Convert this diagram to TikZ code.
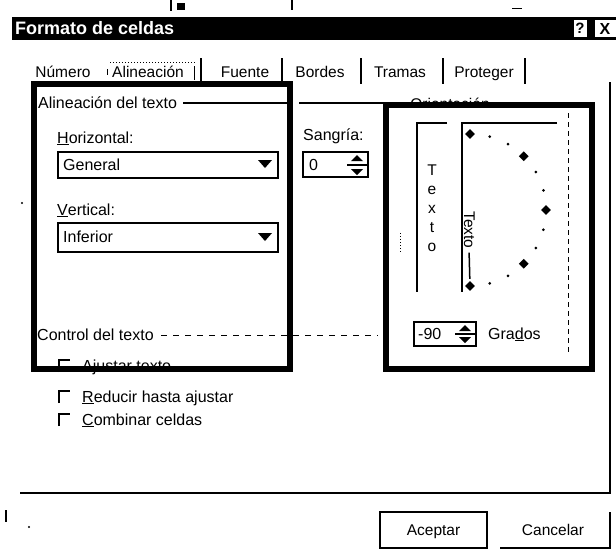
\documentclass[tikz,border=0pt]{standalone}
\usepackage{fontspec}
\setmainfont{Liberation Sans}
\usetikzlibrary{shapes.geometric}

\tikzset{
  hilite/.style={line width=5.5pt},
  boxline/.style={line width=1.3pt},
  txt/.style={anchor=west, inner sep=0pt, text height=12pt, text depth=2pt, font=\fontsize{16}{18}\selectfont},
  tabtxt/.style={inner sep=0pt, text height=12pt, text depth=2pt, font=\fontsize{15.5}{18}\selectfont},
  bigmark/.style={diamond, fill, inner sep=0pt, minimum size=10pt},
  smallmark/.style={circle, fill, inner sep=0pt, minimum size=3pt},
}

\begin{document}
\begin{tikzpicture}[x=1pt,y=-1pt]
\useasboundingbox (0,0) rectangle (616,555);
% title bar
\fill (12,17) rectangle (616,40);
\node[anchor=west, inner sep=0pt, text=white, font=\bfseries\fontsize{18}{20}\selectfont] (title) at (15,28.5) {Formato de celdas};
\node[draw, fill=white, inner sep=0pt, minimum width=14pt, minimum height=18pt, font=\bfseries\fontsize{15}{15}\selectfont] (help) at (580,28.5) {?};
\node[draw, fill=white, inner sep=0pt, minimum width=22pt, minimum height=18pt, font=\bfseries\fontsize{16}{16}\selectfont] (close) at (605,28.5) {X};
% tabs
\node[tabtxt] (tnum) at (63,72) {Número};
\node[tabtxt] (tali) at (148,72) {Alineación};
\node[tabtxt] (tfue) at (245,72) {Fuente};
\node[tabtxt] (tbor) at (320,72) {Bordes};
\node[tabtxt] (ttra) at (400,72) {Tramas};
\node[tabtxt] (tpro) at (484,72) {Proteger};
\foreach \x in {201,282,361,443,525}
  \draw[line width=1.6pt] (\x,58) -- (\x,84);
\draw[dotted, line width=1pt] (110,62) -- (195,62);
\draw[line width=1pt] (194,66) -- (194,80);
\draw[line width=1pt] (107,69) -- (107,75);
% group: Alineacion del texto
\node[txt] (galin) at (38,103) {Alineación del texto};
\draw[line width=1.2pt] (183,103) -- (288,103);
\draw[line width=1.2pt] (299,103) -- (383,103);
\begin{scope}
  \clip (400,80) rectangle (500,103);
  \node[tabtxt] (gori) at (450,104) {Orientación};
\end{scope}
\node[txt] (lhor) at (57,138) {\underline{H}orizontal:};
\draw[boxline] (58,152) rectangle (278,178);
\node[txt] (vhor) at (63,165) {General};
\fill (258,160) -- (272,160) -- (265,168) -- cycle;
\node[txt] (lver) at (57,210) {\underline{V}ertical:};
\draw[boxline] (58,223) rectangle (278,252);
\node[txt] (vver) at (63,237.5) {Inferior};
\fill (258,233) -- (272,233) -- (265,241) -- cycle;
% sangria
\node[txt] (lsan) at (303,135) {Sangría:};
\draw[boxline] (303,152) rectangle (368,177);
\node[txt] (vsan) at (309,165) {0};
\fill (351,161) -- (363,161) -- (357,155) -- cycle;
\draw[line width=1.4pt] (347,165) -- (367,165);
\fill (351,169) -- (363,169) -- (357,175) -- cycle;
% orientacion
\draw[line width=1.5pt] (447,123) -- (417,123) -- (417,292);
\draw[line width=1.5pt] (557,123) -- (462,123) -- (462,292);
\foreach \ch/\y in {T/170,e/189,x/208,t/227,o/246}
  \node[tabtxt] (vt\y) at (432,\y) {\ch};
\node[tabtxt, rotate=-90] (rtexto) at (469,230) {Texto};
\foreach \a in {90,45,0,-45,-90}
  \node[bigmark] (dm\a) at ({470+76*cos(\a)},{210-76*sin(\a)}) {};
\foreach \a in {75,60,30,15,-15,-30,-60,-75}
  \node[smallmark] (dt\a) at ({470+76*cos(\a)},{210-76*sin(\a)}) {};
\draw[line width=1.5pt, shorten <=4pt, shorten >=2pt] (rtexto.east) -- (dm-90);
\draw[dash pattern=on 5pt off 4pt, line width=1pt] (568,113) -- (568,355);
\draw[dotted, line width=1pt] (400,233) -- (400,253);
% grados
\draw[boxline] (414,322) rectangle (476,346);
\node[txt] (vgra) at (418,334) {-90};
\fill (459,331) -- (471,331) -- (465,325) -- cycle;
\draw[line width=1.4pt] (455,334) -- (475,334);
\fill (459,337) -- (471,337) -- (465,343) -- cycle;
\node[txt] (lgra) at (488,334) {Gra\underline{d}os};
% control del texto
\node[txt] (gctl) at (37,335) {Control del texto};
\draw[dash pattern=on 6pt off 6pt, line width=1pt] (161,335) -- (378,335);
\foreach \y/\nm/\t in {366/chkajus/Ajustar texto,397/chkred/\underline{R}educir hasta ajustar,420/chkcom/\underline{C}ombinar celdas}{
  \draw[line width=2.2pt] (59,\y+6) -- (59,\y-6) -- (70,\y-6);
  \node[txt] (\nm) at (82,\y) {\t};
}
% frame and buttons
\draw[line width=1.8pt] (610,82) -- (610,493) -- (20,493);
\node[draw, line width=1.5pt, minimum width=107pt, minimum height=36pt, tabtxt] (bacep) at (433.5,530) {Aceptar};
\node[tabtxt] (bcanc) at (553,530) {Cancelar};
\draw[line width=1.5pt] (500,548) -- (610,548) -- (610,512);
% specks of the scan
\draw[line width=2pt] (171,0) -- (171,11);
\fill (177,3) rectangle (185,10);
\draw[line width=2pt] (292,0) -- (292,10);
\draw[line width=1pt] (512,8) -- (522,8);
\fill (22,203) circle (1.2);
\draw[line width=2pt] (6,510) -- (6,522);
\fill (29,527) circle (1.2);
% marked areas
\draw[hilite] (34,84) rectangle (290,369);
\draw[hilite] (386,105) rectangle (592,369);
\end{tikzpicture}
\end{document}
